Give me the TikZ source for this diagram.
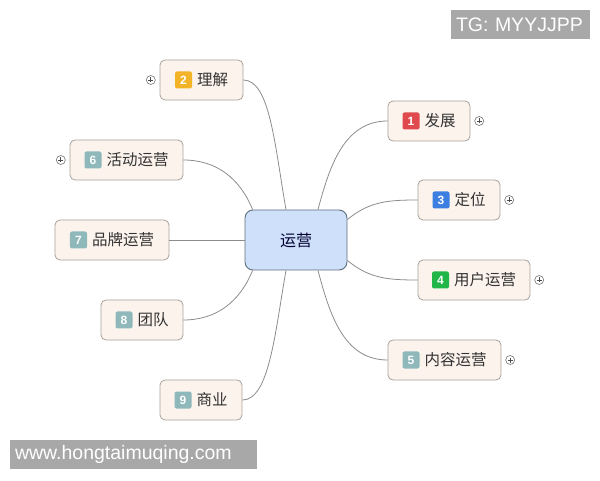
\documentclass[tikz,border=0pt]{standalone}
\usepackage{fontspec}
\setmainfont{Noto Sans CJK SC}
\newfontfamily\latinfont{Liberation Sans}
\usetikzlibrary{positioning}

\definecolor{hubfill}{HTML}{CFE0FA}
\definecolor{hubline}{HTML}{5E6E80}
\definecolor{leaffill}{HTML}{FBF3EC}
\definecolor{leafline}{HTML}{A8A19B}
\definecolor{linkgray}{HTML}{8C8C8C}
\definecolor{tagred}{HTML}{E04A4F}
\definecolor{tagyellow}{HTML}{F2B426}
\definecolor{tagblue}{HTML}{3D7FE0}
\definecolor{taggreen}{HTML}{22B548}
\definecolor{taggray}{HTML}{8FB8BB}
\definecolor{wmgray}{HTML}{A8A8A8}

\tikzset{
  hubbox/.style={draw=hubline,fill=hubfill,rounded corners=8pt,line width=0.9pt,
    minimum width=102pt,minimum height=60pt,text=black!80!blue,
    font=\fontsize{16}{18}\selectfont},
  leafbox/.style={draw=leafline,fill=leaffill,rounded corners=5pt,line width=0.8pt,
    minimum height=40pt,inner xsep=0pt,text=black!80,font=\fontsize{15.5}{18}\selectfont},
  numbox/.style={rounded corners=2pt,minimum size=17pt,inner sep=0pt,text=white,
    font=\latinfont\bfseries\fontsize{12}{12}\selectfont},
  link/.style={draw=linkgray,line width=0.8pt},
  plusmark/.style={circle,draw=black!55,fill=white,minimum size=9pt,inner sep=0pt,line width=0.6pt,
    path picture={\draw[line width=0.7pt,black!70]
      ([xshift=-2.5pt]path picture bounding box.center) -- ([xshift=2.5pt]path picture bounding box.center)
      ([yshift=-2.5pt]path picture bounding box.center) -- ([yshift=2.5pt]path picture bounding box.center);}},
  wmbox/.style={fill=wmgray,text=white,inner xsep=5pt,minimum height=29pt,align=left,
    font=\latinfont\fontsize{19.5}{19.5}\selectfont}
}
\newcommand{\numtag}[2]{\tikz[baseline={([yshift=-5.8pt]t.center)}]\node[numbox,fill=#1](t){#2};\hspace{5pt}}

\begin{document}
\begin{tikzpicture}[x=1pt,y=1pt]
  \useasboundingbox (0,0) rectangle (600,480);

  \node[hubbox] (hub) at (296,240) {运营};

  \node[leafbox,minimum width=83pt] (n2) at (201.5,400) {\numtag{tagyellow}{2}理解};
  \node[leafbox,minimum width=113pt] (n6) at (126.5,320) {\numtag{taggray}{6}活动运营};
  \node[leafbox,minimum width=114pt] (n7) at (112,240) {\numtag{taggray}{7}品牌运营};
  \node[leafbox,minimum width=82pt] (n8) at (142,160) {\numtag{taggray}{8}团队};
  \node[leafbox,minimum width=82pt] (n9) at (201,80) {\numtag{taggray}{9}商业};
  \node[leafbox,minimum width=82pt] (n1) at (429,359) {\numtag{tagred}{1}发展};
  \node[leafbox,minimum width=82pt] (n3) at (459,280) {\numtag{tagblue}{3}定位};
  \node[leafbox,minimum width=112pt] (n4) at (474,200) {\numtag{taggreen}{4}用户运营};
  \node[leafbox,minimum width=113pt] (n5) at (444.5,120) {\numtag{taggray}{5}内容运营};

  \node[plusmark,left=4pt of n2] (p2) {};
  \node[plusmark,left=4pt of n6] (p6) {};
  \node[plusmark,right=4pt of n1] (p1) {};
  \node[plusmark,right=4pt of n3] (p3) {};
  \node[plusmark,right=4pt of n4] (p4) {};
  \node[plusmark,right=4pt of n5] (p5) {};

  \draw[link] ([xshift=-10pt]hub.north) to[out=100,in=0,out looseness=1.2,in looseness=0.5] (n2.east);
  \draw[link] ([xshift=8pt]hub.north west) to[out=112,in=0] (n6.east);
  \draw[link] (hub.west) -- (n7.east);
  \draw[link] ([xshift=8pt]hub.south west) to[out=-112,in=0] (n8.east);
  \draw[link] ([xshift=-10pt]hub.south) to[out=-100,in=0,out looseness=1.2,in looseness=0.5] (n9.east);
  \draw[link] ([xshift=22pt]hub.north) to[out=75,in=180] (n1.west);
  \draw[link] ([yshift=-10pt]hub.north east) to[out=40,in=180] (n3.west);
  \draw[link] ([yshift=10pt]hub.south east) to[out=-40,in=180] (n4.west);
  \draw[link] ([xshift=22pt]hub.south) to[out=-75,in=180] (n5.west);

  \node[wmbox,text width=129pt] (tg) at (520.5,455.5) {TG: MYYJJPP};
  \node[wmbox,text width=237pt] (web) at (133.5,25.5) {www.hongtaimuqing.com};
\end{tikzpicture}
\end{document}
